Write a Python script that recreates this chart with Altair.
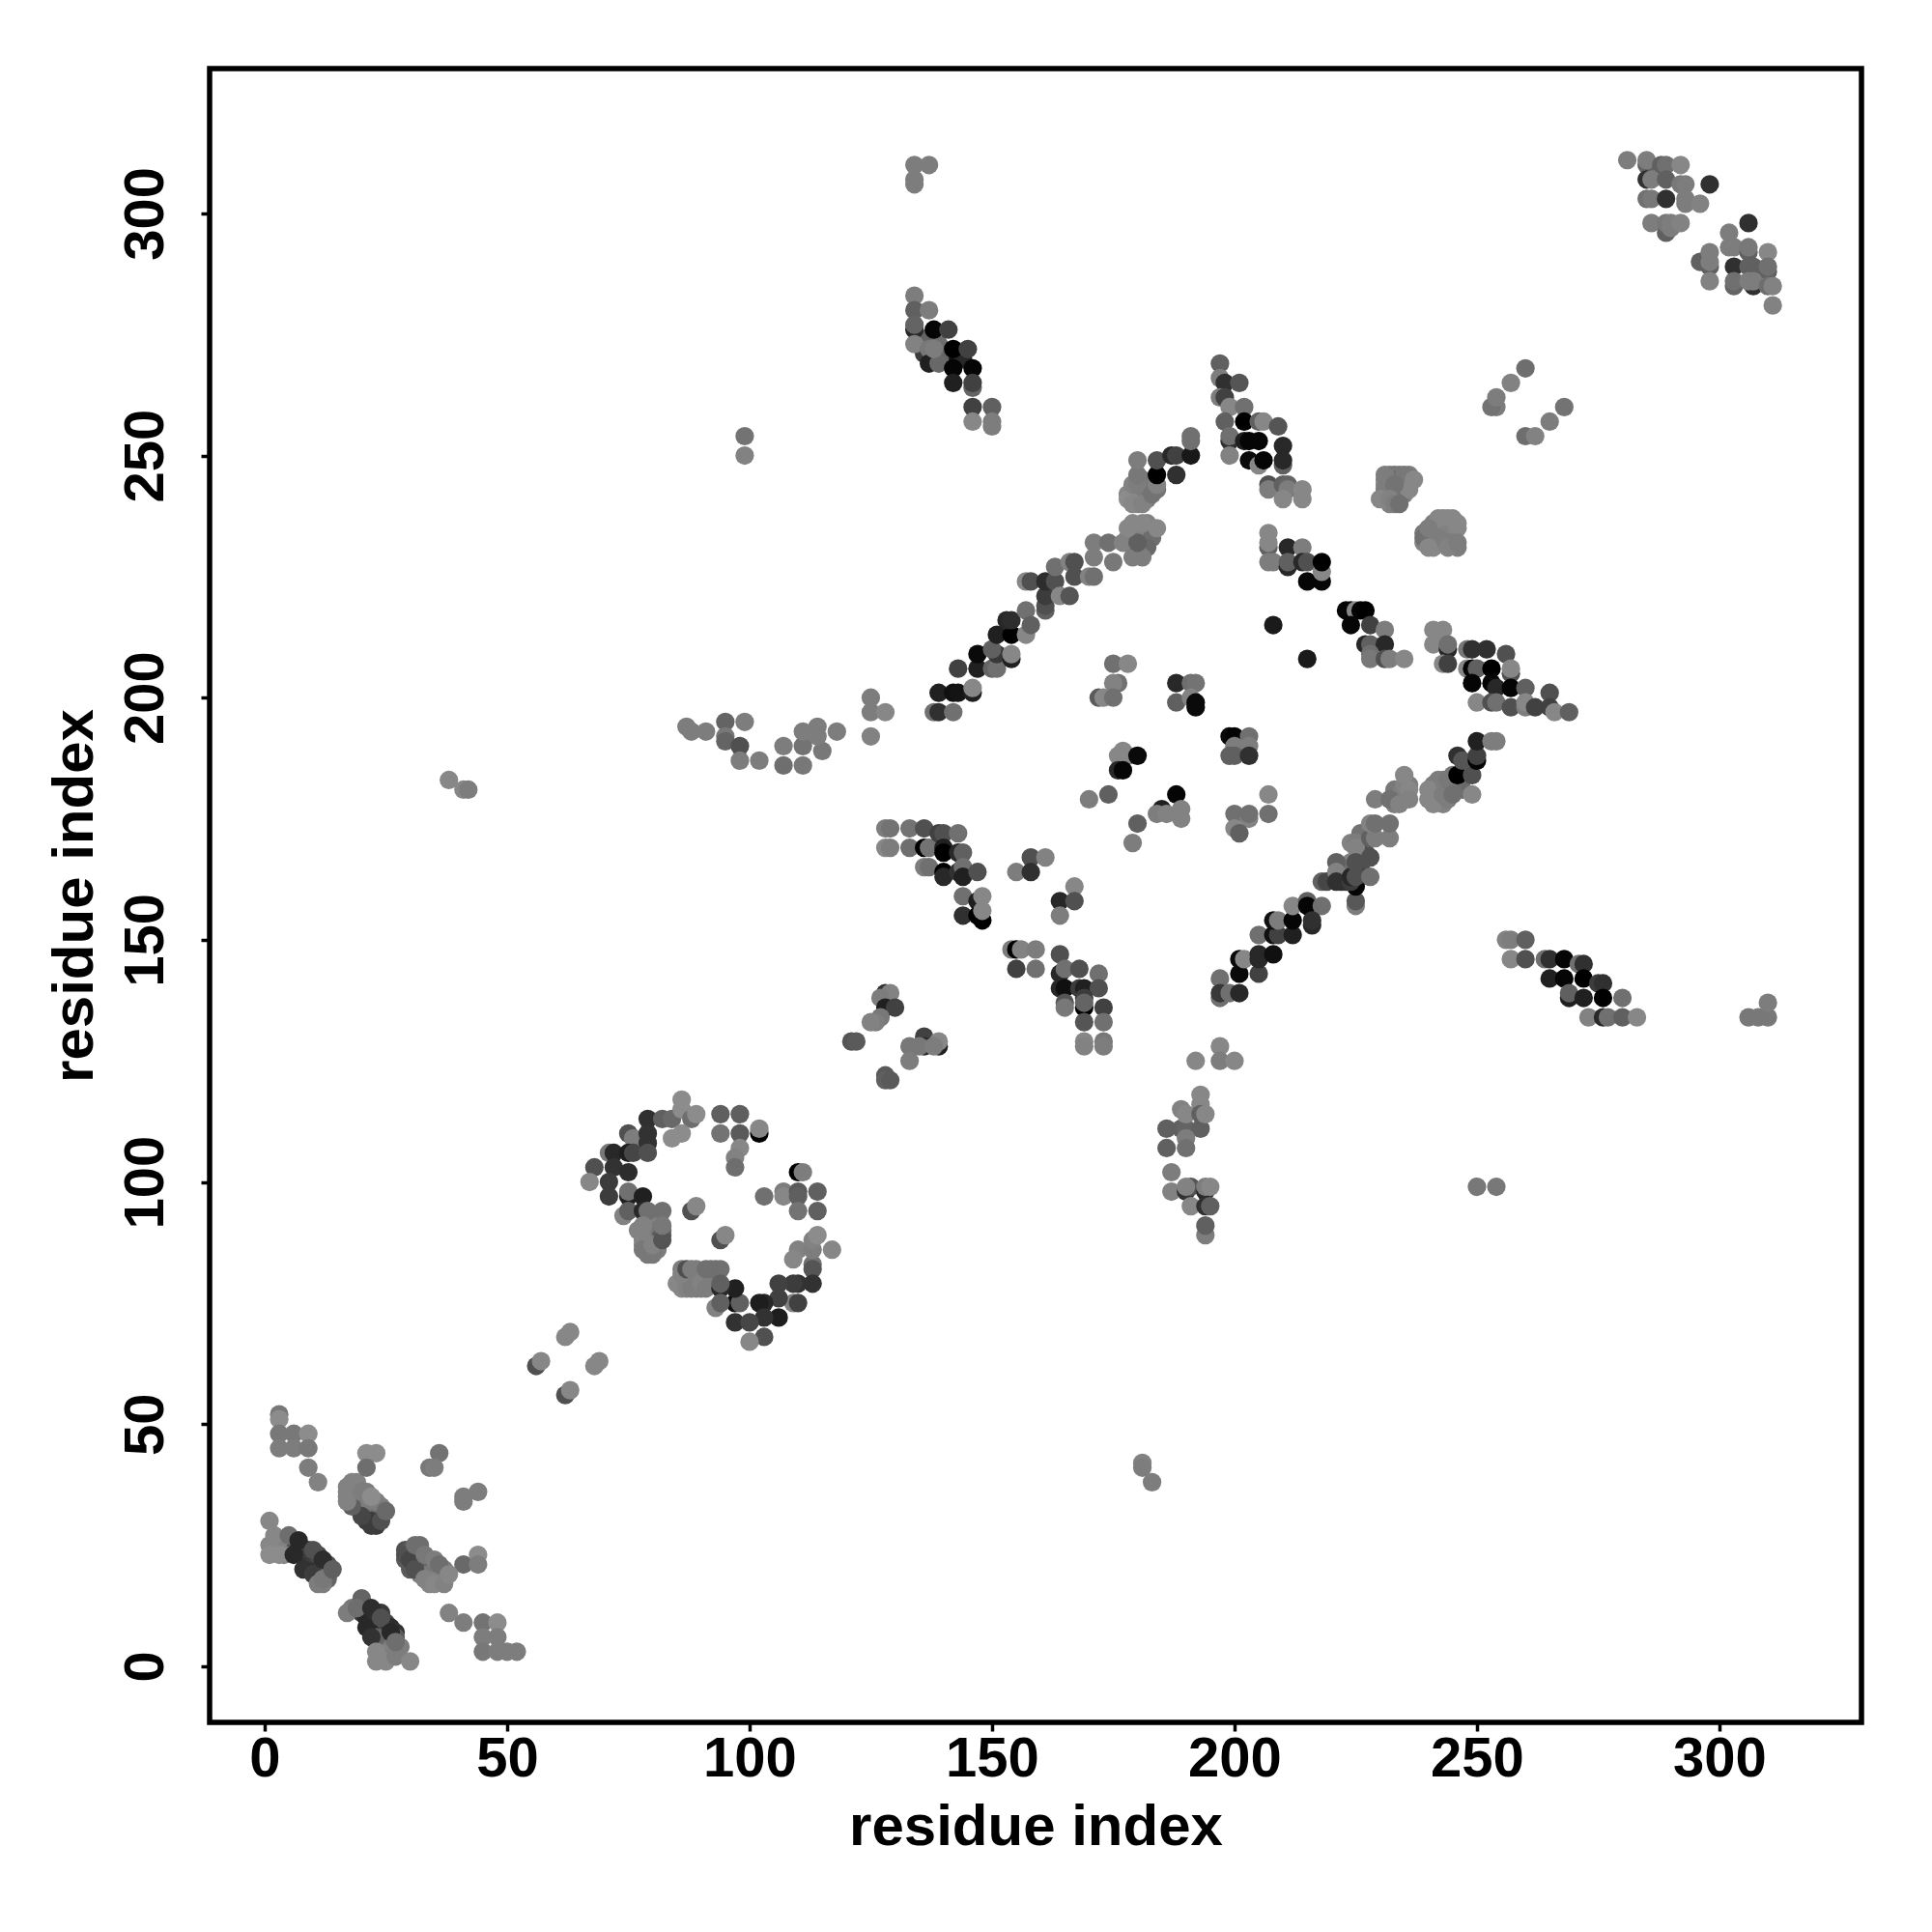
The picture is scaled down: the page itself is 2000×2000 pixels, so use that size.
import altair as alt
import pandas as pd

# (residue x, residue y, shade 0-255), in drawing order
fill_low = [(4,26,110),(6,25,80),(7,24,40),(8,23,45),(9,22,50),(10,21,60),(11,20,50),(12,19,60),(13,19,95),(13,21,80),(9,24,60),(11,23,70),(13,18,100),(11,19,100),(12,17,125),(2,24,135),(4,23,135),(3,26,130),
 (18,12,120),(20,11,60),(21,10,40),(22,9,40),(23,8,45),(24,7,40),(25,6,50),(26,5,60),(23,11,50),(24,11,55),(25,9,70),(26,8,45),(27,7,50),(27,6,90),(25,4,120),(24,3,125),(26,3,130),(26,2,130),(24,2,125),(28,4,125),(23,6,100),
 (17,37,130),(17,35,130),(18,37,125),(19,37,130),(19,35,120),(19,33,90),(20,33,80),(21,32,60),(21,30,60),(23,30,65),(22,31,70),(23,32,100),(24,33,125),(24,31,90),(19,34,110),(20,34,110),(22,33,110),(21,34,125),(23,29,60),(21,35,125),(19,38,130),(22,30,60),
 (29,24,80),(29,22,90),(30,24,90),(30,20,90),(32,25,110),(32,21,80),(33,21,90),(32,23,110),(34,22,125),(34,20,100),(35,20,110),(34,19,120),(36,19,125),(36,18,130),(34,17,135),(37,19,130),(32,19,125),(37,20,125)]
fill_ring = [(79,92,130),(79,90,125),(79,88,120),(79,87,125),(80,90,130),(80,88,120),(81,86,125),(81,90,120),(81,88,90),(82,90,115),(82,89,95),(78,89,125),(78,87,125),(80,85,120),(77,90,130),
 (86,80,130),(87,80,125),(88,80,130),(89,80,130),(90,80,130),(87,79,125),(88,79,130),(89,79,130),(89,78,125),(90,78,125),(86,82,125),(91,80,125),(92,80,125),(92,79,125),(92,82,115),(93,82,112)]
fill_blobs = [(232,246,125),(233,246,115),(234,246,120),(236,246,125),(231,245,125),(233,245,110),(235,245,125),(236,245,130),(231,244,130),(233,243,110),(233,242,105),(234,242,125),(235,243,130),(235,242,130),(232,243,130),(231,242,130),(232,240,130),(231,241,135),(234,241,115),(236,244,130),
 (243,237,130),(244,237,135),(241,236,125),(243,236,125),(245,236,135),(240,234,110),(241,234,105),(242,235,120),(243,235,130),(244,235,130),(246,235,135),(241,232,125),(242,232,130),(243,232,130),(244,232,125),(245,232,125),(246,231,125),(241,231,135),(239,232,130),(239,234,120),
 (178,242,135),(179,242,125),(180,243,115),(181,243,120),(182,243,115),(181,241,130),(182,241,125),(181,245,115),(180,241,125),(183,244,120),(180,240,135),(182,242,120),
 (179,234,120),(180,235,120),(181,233,110),(180,234,120),(182,232,110),(179,232,125),(181,235,130),(182,236,130),(178,233,125),(183,233,110),(182,231,105),(180,230,125),(181,229,125)]
fill_diag = [(241,182,125),(241,180,125),(242,179,130),(242,183,125),(242,181,125),(243,178,130),(245,184,120),(246,182,115),(247,181,110),(247,183,105),(244,181,115),(245,182,110),
 (233,181,120),(234,180,125),(235,180,125),(235,182,130),(236,182,125),(233,178,125),(226,168,115),(226,165,80),(226,163,70),(226,172,115),(227,168,80),(224,170,130),(224,166,130),
 (222,162,50),(223,162,50),(222,164,110),(222,163,105),(222,165,110),(136,274,100),(139,273,110),(140,270,100),(136,271,60),(143,270,20),(144,270,40)]
cluster_a = [(3,52,120),(3,51,140),(3,48,120),(3,45,125),(6,48,120),(6,45,125),(9,48,140),(9,45,120),(9,41,125),(11,38,130),
 (21,44,140),(23,44,140),(21,41,110),(36,44,115),(34,41,120),(35,41,125),(44,36,125),(41,35,125),(41,34,125),
 (41,21,105),(44,23,140),(44,21,125),(38,11,130),(41,9,125),(45,9,115),(48,9,140),(45,6,125),(48,6,125),(45,3,120),(48,3,125),(50,3,125),(52,3,125)]
cluster_b = [(1,30,135),(1,25,135),(1,23,140),(3,23,140),(2,27,135),(5,27,110),(6,23,40),(8,20,50),(10,19,60),(7,26,40),(10,24,80),(11,17,125),(12,18,120),(12,22,45),(14,20,95),
 (20,14,100),(17,11,125),(19,12,110),(21,8,40),(22,6,50),(22,12,45),(24,10,80),(23,3,135),(23,1,135),(25,1,135),(26,7,40),(27,2,125),(27,5,110),(30,1,135)]
cluster_c = [(22,29,60),(24,30,80),(20,31,70),(18,33,95),(17,36,130),(17,34,130),(18,38,130),(20,36,125),(21,36,125),(23,34,125),(22,35,140),(25,32,105),
 (29,23,80),(30,22,70),(31,20,80),(31,25,110),(33,23,120),(35,22,125),(33,18,130),(35,17,135),(37,17,130),(36,21,110),(38,19,135)]
cluster_d = [(38,183,135),(41,181,135),(42,181,125),(56,62,80),(57,63,135),(62,56,80),(63,57,135),(68,62,135),(69,63,135),(62,68,135),(63,69,135),
 (181,42,130),(181,41,125),(183,38,125),(99,254,115),(99,250,130),(250,99,120),(254,99,120),
 (134,310,125),(137,310,125),(134,306,125),(134,307,125),(306,134,120),(308,134,120),(310,134,120),(310,137,125),
 (254,260,125),(253,260,115),(254,262,125),(257,265,130),(260,268,110),(260,254,110),(262,254,130),(265,257,125),(268,260,115)]
ring_top = [(79,113,48),(82,113,96),(84,113,105),(86,117,140),(86,115,140),(88,113,110),(89,114,140),(86,110,140),(84,109,140),(94,114,95),(98,114,95),(94,110,115),(98,110,90),
 (102,110,0),(102,111,135),(98,107,135),(97,105,130),(97,103,110),(75,110,80),(76,109,125),(79,110,50),(79,108,50),(71,106,120),(72,106,40),(75,106,30),(76,106,70),(79,106,80),
 (68,103,80),(72,103,50),(75,102,45),(71,100,60),(67,100,135),(71,97,60),(75,97,32),(75,98,112),(78,97,32),(74,93,130),(75,94,96),(78,94,40),(79,94,112),(82,94,112),
 (78,91,130),(78,88,130),(78,86,120),(79,85,120),(80,87,130),(82,88,85),(82,91,120),(88,94,80),(89,95,135),(94,88,80),(95,89,135)]
ring_right = [(103,97,112),(107,98,125),(107,97,135),(110,102,0),(111,102,125),(110,98,90),(110,97,95),(114,98,96),(110,94,115),(114,94,96),
 (110,86,130),(109,84,135),(117,86,135),(113,83,112),(113,82,85),(113,86,125),(113,88,130),(114,89,140),(113,79,50),(110,79,50),(109,79,60),(106,79,65),(109,75,130),(110,75,65),(106,76,65),(106,72,30),
 (103,75,40),(102,75,30),(103,72,50),(103,68,80),(100,67,135),(97,71,50),(100,71,70),(97,75,16),(98,75,96),(97,78,32),
 (85,79,135),(86,78,135),(86,81,130),(87,82,80),(88,82,125),(89,82,125),(87,78,130),(88,78,125),(90,79,130),(91,82,112),(91,78,125),(94,82,112),(94,78,40),(94,79,96),(93,74,130),(94,75,96)]
block_a = [(128,173,125),(129,173,115),(128,169,135),(129,169,125),(133,173,115),(133,169,110),(136,173,80),(136,169,0),(137,169,115),(136,165,125),(137,165,112),
 (139,172,65),(140,172,80),(140,169,32),(140,168,0),(143,172,112),(143,168,40),(144,168,96),(140,164,0),(140,163,40),(143,164,50),(144,165,112),(144,163,32),(147,164,80),
 (144,159,112),(144,155,48),(147,158,30),(147,155,0),(148,154,0),(148,159,135),(148,156,135),
 (158,167,80),(161,167,130),(155,164,125),(158,164,48),(167,161,135),(164,158,40),(167,158,80),(164,155,125),(170,179,125),(174,180,96),(180,174,96),(179,170,125)]
block_b = [(154,148,125),(155,148,0),(156,148,130),(159,148,125),(155,144,65),(159,144,112),
 (164,147,80),(164,143,40),(165,144,112),(168,144,80),(172,143,112),(164,140,40),(165,140,16),(168,140,60),(169,140,32),(172,140,80),
 (165,137,85),(165,136,120),(169,136,0),(169,138,60),(169,137,100),(173,136,65),(169,133,85),(173,133,112),(169,129,135),(169,128,130),(173,129,120),(173,128,125)]
block_c = [(128,139,50),(129,139,130),(127,138,125),(128,136,32),(130,136,65),(127,134,120),(126,133,125),(125,133,130),(136,130,65),(136,128,40),(139,128,32),(139,129,135),
 (133,128,120),(133,125,125),(135,128,120),(138,128,125),(128,122,90),(128,121,96),(129,121,90),(121,129,85),(122,129,90),(125,200,125),(125,197,125),(128,197,135),(125,192,130)]
inner = [(175,207,112),(178,207,135),(176,203,112),(175,203,130),(172,200,90),(173,200,135),(175,200,112),(188,203,40),(191,203,110),(192,203,115),(188,199,96),(191,200,130),(192,199,10),(192,198,10),
 (176,188,135),(177,189,135),(178,188,135),(176,185,40),(177,185,5),(180,188,10),(188,180,5),(185,177,32),(184,176,125),(186,176,130),(189,177,130),(189,175,130),
 (208,215,26),(215,208,26),(199,192,10),(200,192,5),(203,192,112),(200,190,125),(203,190,125),(199,188,96),(200,188,96),(203,188,48),(207,180,135),(207,176,112),(200,176,112),(203,175,130),(203,176,112),(200,173,135),(201,172,96)]
diag_low = [(197,142,112),(197,138,112),(197,139,56),(199,139,112),(201,139,40),(201,143,10),(201,146,10),(202,146,135),(205,143,65),(205,147,40),(205,146,40),(208,147,16),
 (205,151,112),(208,151,16),(209,151,65),(208,154,16),(209,154,125),(212,151,32),(212,154,5),(212,157,135),(215,158,96),(215,157,5),(218,157,112),(216,153,40),(216,154,48),
 (218,162,96),(219,162,70),(221,166,96),(221,164,130),(221,162,48),(225,157,125),(225,158,88),(225,161,5),(224,162,60),(224,163,40),(225,163,80),(225,170,125),(225,169,130),(225,166,80),
 (228,163,112),(228,167,80),(228,171,96),(229,171,125),(232,171,125),(228,174,130),(229,174,112),(232,174,112),(229,179,125),(232,179,112),(235,184,135),(236,181,135),(236,179,130),(234,178,130)]
diag_up_r = [(240,181,135),(240,179,135),(241,178,135),(243,180,125),(244,179,125),(243,183,125),(244,183,120),(245,180,112),(249,180,135),(246,184,0),(249,184,80),(246,188,48),(247,187,85),(250,187,5),(250,188,65),(250,191,32),(253,191,125),(254,191,125)]
diag_left = [(138,197,112),(139,197,48),(142,197,112),(139,201,32),(142,201,16),(143,201,20),(146,201,32),(146,202,135),(143,206,65),(147,206,32),(150,206,100),(151,206,112),(147,209,10),(151,209,56),(150,210,96),(154,208,32),(154,209,135),
 (151,213,32),(154,213,0),(157,213,135),(153,216,40),(154,216,45),(157,218,112),(158,215,96),(157,224,135),(158,224,80),(161,218,96),(161,219,80),(161,221,60),(161,224,45),(163,224,80),(163,227,112),(164,221,135),(166,221,85),(166,228,130),(167,228,80),(167,225,80),
 (170,225,130),(171,225,112),(171,229,125),(171,232,125),(174,232,112),(175,228,120),(177,232,130),(179,229,125),(180,232,96),(178,235,135),(179,236,135),(181,236,135),(184,235,135),
 (178,241,140),(179,240,135),(181,240,130),(179,244,130),(180,244,125),(180,246,120),(180,249,125),(183,242,115),(184,243,115),(184,244,130),(184,246,0),(184,249,80),(187,250,40),(188,246,48),(188,250,65),(191,250,24),(191,254,112),(191,253,112)]
top_mid = [(134,283,125),(134,280,96),(137,280,125),(134,276,40),(134,277,100),(134,273,130),(137,272,120),(137,269,32),(139,269,104),(138,272,125),(138,276,5),(141,276,65),(142,272,0),(145,272,65),(142,268,5),(146,268,5),(142,265,32),(146,264,100),(146,265,65),(146,260,65),(150,260,96),(146,257,135),(150,257,125),(150,256,125)]
apex = [(197,269,96),(197,266,125),(198,265,48),(201,265,85),(197,262,125),(198,262,65),(199,260,135),(202,260,112),(198,257,96),(202,257,0),(205,257,96),(206,257,135),(209,256,85),(199,253,48),(199,254,112),(199,250,130),(202,253,32),(203,253,5),(205,253,5),(210,252,40),(203,249,10),(205,248,135),(206,249,5),(210,248,96),(210,249,40),
 (207,244,80),(207,243,125),(210,244,96),(211,244,100),(211,243,125),(210,241,135),(214,243,135),(214,241,135)]
right_a = [(207,234,135),(207,231,96),(207,232,135),(211,231,40),(214,231,125),(207,228,125),(208,228,125),(211,227,40),(211,228,96),(214,228,40),(215,228,80),(215,224,5),(218,224,5),(218,226,135),(218,228,0),
 (231,246,125),(235,246,120),(237,245,135),(236,243,135),(231,243,125),(233,244,115),(230,241,135),(232,241,130),(233,240,125),(234,240,112),
 (242,237,135),(245,237,135),(246,236,135),(239,233,112),(240,235,125),(242,233,125),(240,231,135),(244,231,130),(246,232,125),
 (223,218,5),(224,218,5),(225,218,135),(226,218,5),(227,218,0),(224,215,5),(228,215,65),(231,214,125),(227,211,40),(228,211,96),(231,211,40),(228,209,112),(228,208,120),(231,208,80),(232,208,125),(235,208,135),
 (241,214,135),(243,214,135),(241,211,135),(244,210,40),(244,211,112),(243,207,135),(244,207,65)]
right_b = [(248,210,120),(249,210,48),(252,210,48),(256,209,80),(248,206,135),(249,206,5),(250,206,96),(253,206,0),(257,205,80),(257,206,135),(249,203,5),(253,203,5),(254,202,40),(257,202,5),(260,202,96),
 (250,199,135),(253,199,80),(254,199,112),(257,198,80),(260,198,125),(260,199,135),(262,198,65),(265,201,80),(265,198,65),(266,197,135),(269,197,96),
 (256,150,130),(257,150,125),(260,150,96),(257,146,135),(260,146,80),(264,146,112),(265,146,48),(268,146,5),(265,142,32),(268,142,5),(271,145,112),(272,145,48),(272,142,0),(269,138,32),(269,139,96),(272,138,32),(275,141,60),(276,141,48),(276,138,0),(280,138,112),
 (273,134,130),(276,134,40),(277,134,112),(280,134,96),(283,134,135)]
top_right = [(281,311,125),(285,310,100),(285,311,125),(288,310,96),(289,310,112),(292,310,135),(285,307,48),(286,307,125),(289,307,96),(292,306,120),(293,306,125),(298,306,48),
 (285,303,112),(286,303,120),(289,303,48),(293,303,125),(293,302,125),(296,302,130),(286,298,125),(289,296,96),(289,298,120),(290,297,125),(290,298,125),(292,298,130),
 (306,298,48),(302,296,125),(302,293,125),(303,293,125),(306,292,96),(306,293,120),(310,292,135),(296,290,96),(298,292,125),(298,289,96),(298,290,125),(298,286,130),
 (303,289,48),(306,289,96),(307,289,96),(310,288,96),(310,289,112),(303,285,100),(303,286,112),(307,285,48),(306,286,125),(307,286,125),(310,285,110),(311,285,130),(311,281,130)]
cross = [(87,194,125),(88,193,125),(91,193,125),(95,195,100),(95,192,120),(99,195,125),(95,191,100),(98,190,80),(98,187,125),(102,187,125),(107,190,125),(107,186,110),(111,190,115),(111,193,125),(111,186,120),(114,194,125),(115,189,120),(114,192,125),(118,193,125),
 (186,111,96),(189,111,96),(190,111,100),(193,111,96),(190,109,125),(186,107,96),(190,107,112),(189,115,130),(190,114,135),(193,118,135),(193,116,135),(193,114,96),(194,114,135),(192,125,135),(197,128,135),(197,125,125),(200,125,135),
 (187,102,125),(187,98,130),(190,98,50),(191,99,85),(190,99,130),(194,98,40),(194,99,125),(195,99,135),(191,95,135),(194,95,48),(195,95,96),(194,89,125),(194,91,96)]

clusters = [fill_low, fill_ring, fill_blobs, fill_diag, cluster_a, cluster_b, cluster_c, cluster_d, ring_top, ring_right, block_a, block_b, block_c, inner,
            diag_low, diag_up_r, diag_left, top_mid, apex, right_a, right_b, top_right, cross]
rows = [p for c in clusters for p in c]
df = pd.DataFrame(rows, columns=["x", "y", "shade"])

x_domain = [-11.35, 329.3]
y_domain = [-11.6, 329.9]
ticks = [0, 50, 100, 150, 200, 250, 300]
FONT = "Liberation Sans"

chart = alt.Chart(df).mark_circle(size=370, opacity=1).encode(
    x=alt.X("x:Q", scale=alt.Scale(domain=x_domain, nice=False, zero=False),
            axis=alt.Axis(values=ticks, title="residue index", labelPadding=0, titlePadding=12, format="d")),
    y=alt.Y("y:Q", scale=alt.Scale(domain=y_domain, nice=False, zero=False),
            axis=alt.Axis(values=ticks, title="residue index", labelAngle=270, labelAlign="center", labelBaseline="bottom",
                          labelPadding=28, titlePadding=14, format="d")),
    color=alt.Color("shade:Q", scale=alt.Scale(domain=[0, 255], range=["#000000", "#ffffff"], interpolate="rgb"), legend=None),
).properties(
    width=1710, height=1712,
    padding={"left": 209, "top": 63, "right": 20, "bottom": 200},
    autosize=alt.AutoSizeParams(type="none"),
    background="white",
).configure_view(stroke="black", strokeWidth=5.5).configure_axis(
    grid=False, domain=False, ticks=True, tickColor="black", tickWidth=3.5, tickSize=9,
    labelFont=FONT, labelFontWeight="bold", labelFontSize=58, labelColor="black",
    titleFont=FONT, titleFontWeight="bold", titleFontSize=60, titleColor="black",
    labelOverlap=False, labelFlush=False,
)

chart.save("out.html", embed_options={"renderer": "svg", "actions": False})
